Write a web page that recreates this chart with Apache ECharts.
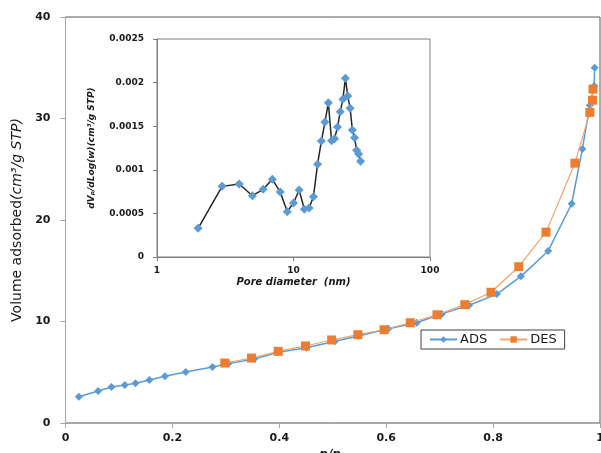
<!DOCTYPE html>
<html><head><meta charset="utf-8">
<script src="https://cdn.jsdelivr.net/npm/echarts@6/dist/echarts.min.js"></script>
<style>html,body{margin:0;padding:0;background:#fff}#c{width:601px;height:453px}</style>
</head><body><div id="c"></div>
<script>
// Main isotherm (relative pressure p/p0 vs volume adsorbed)
const adsP = [0.025, 0.061, 0.086, 0.111, 0.131, 0.157, 0.186, 0.225, 0.275, 0.305, 0.353, 0.398, 0.451, 0.504, 0.548, 0.604, 0.657, 0.704, 0.755, 0.807, 0.852, 0.903, 0.947, 0.967, 0.981, 0.989, 0.990];
const adsV = [2.59, 3.15, 3.55, 3.74, 3.91, 4.24, 4.6, 5.02, 5.52, 5.85, 6.3, 6.96, 7.42, 8.05, 8.57, 9.29, 9.88, 10.75, 11.6, 12.7, 14.45, 16.95, 21.6, 27.0, 31.3, 33.2, 35.0];
const desP = [0.298, 0.348, 0.398, 0.449, 0.498, 0.547, 0.596, 0.645, 0.695, 0.747, 0.796, 0.848, 0.899, 0.953, 0.981, 0.986, 0.987];
const desV = [5.91, 6.4, 7.06, 7.59, 8.18, 8.7, 9.19, 9.88, 10.66, 11.66, 12.88, 15.4, 18.8, 25.6, 30.6, 31.8, 32.9];
// Inset pore size distribution
const poreD = [2, 3, 4, 5, 6, 7, 8, 9, 10, 11, 12, 13, 14, 15, 16, 17, 18, 19, 20, 21, 22, 23, 24, 25, 26, 27, 28, 29, 30, 31];
const dvDlogW = [0.000329, 0.00081, 0.000837, 0.000703, 0.000776, 0.000891, 0.000745, 0.00052, 0.000619, 0.000768, 0.000547, 0.000562, 0.000692, 0.001063, 0.00133, 0.001548, 0.00177, 0.001334, 0.001357, 0.00149, 0.001667, 0.001808, 0.002049, 0.001846, 0.001705, 0.001456, 0.001368, 0.001223, 0.001181, 0.001097];
// Tick labels
const mainXTicks = ['0', '0.2', '0.4', '0.6', '0.8', '1'];
const mainYTicks = ['0', '10', '20', '30', '40'];
const insetXTicks = {1: '1', 10: '10', 100: '100'};
const insetYTicks = ['0', '0.0005', '0.001', '0.0015', '0.002', '0.0025'];

const chart = echarts.init(document.getElementById('c'));
const zip = (a, b) => a.map((v, i) => [v, b[i]]);
const tickFont = {fontFamily: 'DejaVu Sans', fontWeight: 'bold', color: '#1a1a1a'};

chart.setOption({
  animation: false,
  backgroundColor: '#fff',
  grid: [
    {left: 65.5, top: 17, right: 1, bottom: 30, show: true, borderColor: '#595959', borderWidth: 1, backgroundColor: 'transparent', containLabel: false, outerBoundsMode: 'none'},
    {left: 157, top: 39, width: 273, height: 218, show: true, borderColor: '#7f7f7f', borderWidth: 1, backgroundColor: '#fff', z: 5, containLabel: false, outerBoundsMode: 'none'}
  ],
  xAxis: [
    {gridIndex: 0, type: 'value', min: 0, max: 1, interval: 0.2,
     axisLine: {lineStyle: {color: '#a6a6a6'}}, axisTick: {show: true, length: 5, lineStyle: {color: '#a6a6a6'}},
     splitLine: {show: false},
     axisLabel: Object.assign({fontSize: 11, margin: 10, formatter: (v) => mainXTicks[Math.round(v / 0.2)]}, tickFont),
     name: 'p/p\u2080', nameLocation: 'middle', nameGap: 23,
     nameTextStyle: {fontFamily: 'DejaVu Sans', fontWeight: 'bold', fontStyle: 'italic', fontSize: 12, color: '#1a1a1a'}},
    {gridIndex: 1, type: 'log', logBase: 10, min: 1, max: 100, z: 6,
     axisLine: {lineStyle: {color: '#7f7f7f'}}, axisTick: {show: true, length: 4, lineStyle: {color: '#7f7f7f'}},
     minorTick: {show: false}, splitLine: {show: false},
     axisLabel: Object.assign({fontSize: 9, margin: 9, formatter: (v) => insetXTicks[Math.round(v)] || ''}, tickFont),
     name: 'Pore diameter  (nm)', nameLocation: 'middle', nameGap: 20,
     nameTextStyle: {fontFamily: 'DejaVu Sans', fontWeight: 'bold', fontStyle: 'italic', fontSize: 10, color: '#1a1a1a'}}
  ],
  yAxis: [
    {gridIndex: 0, type: 'value', min: 0, max: 40, interval: 10,
     axisLine: {show: true, lineStyle: {color: '#a6a6a6'}}, axisTick: {show: true, length: 5, lineStyle: {color: '#a6a6a6'}},
     splitLine: {show: false},
     axisLabel: Object.assign({fontSize: 11, margin: 15, formatter: (v) => mainYTicks[Math.round(v / 10)]}, tickFont),
     name: '{r|Volume adsorbed}{i|(cm\u00b3/g STP)}', nameLocation: 'middle', nameGap: 37,
     nameTextStyle: {rich: {
       r: {fontFamily: 'DejaVu Sans', fontSize: 14, color: '#1a1a1a'},
       i: {fontFamily: 'DejaVu Sans', fontSize: 14, fontStyle: 'italic', color: '#1a1a1a'}}}},
    {gridIndex: 1, type: 'value', min: 0, max: 0.0025, interval: 0.0005, z: 6,
     axisLine: {show: true, lineStyle: {color: '#7f7f7f'}}, axisTick: {show: true, length: 4, lineStyle: {color: '#7f7f7f'}},
     splitLine: {show: false},
     axisLabel: Object.assign({fontSize: 9, margin: 13, formatter: (v) => insetYTicks[Math.round(v / 0.0005)]}, tickFont),
     name: 'dV\u209a/dLog(w)(cm\u00b3/g STP)', nameLocation: 'middle', nameGap: 61,
     nameTextStyle: {fontFamily: 'DejaVu Sans', fontWeight: 'bold', fontStyle: 'italic', fontSize: 9, color: '#1a1a1a'}}
  ],
  legend: {
    left: 421, top: 330, orient: 'horizontal',
    data: ['ADS', 'DES'],
    borderColor: '#404040', borderWidth: 1, padding: [3, 8], itemGap: 12,
    itemWidth: 27, itemHeight: 8,
    textStyle: {fontFamily: 'DejaVu Sans', fontSize: 13, color: '#1a1a1a', padding: [0, 0, 0, -2]}
  },
  series: [
    {name: 'ADS', type: 'line', xAxisIndex: 0, yAxisIndex: 0, data: zip(adsP, adsV),
     symbol: 'diamond', symbolSize: 8, itemStyle: {color: '#5B9BD5'}, lineStyle: {color: '#5B9BD5', width: 1.5}, z: 2},
    {name: 'DES', type: 'line', xAxisIndex: 0, yAxisIndex: 0, data: zip(desP, desV),
     symbol: 'rect', symbolSize: 9, itemStyle: {color: '#ED7D31'}, lineStyle: {color: '#F4A46A', width: 1.2}, z: 3},
    {name: 'PSD', type: 'line', xAxisIndex: 1, yAxisIndex: 1, data: zip(poreD, dvDlogW),
     symbol: 'diamond', symbolSize: 9, itemStyle: {color: '#5B9BD5'}, lineStyle: {color: '#262626', width: 1.5}, z: 7}
  ]
});
</script></body></html>
